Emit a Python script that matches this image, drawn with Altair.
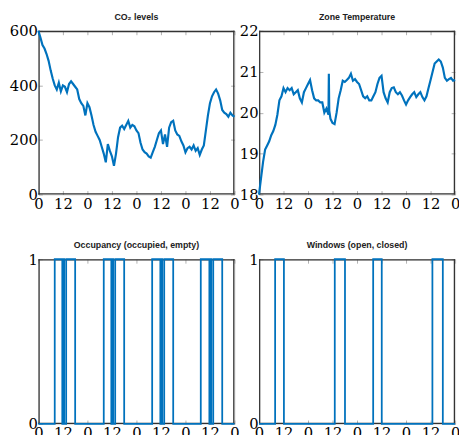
import altair as alt
import pandas as pd

# ---------------- data ----------------
hours = list(range(97))

co2_values = [600, 575, 548, 535, 515, 490, 455, 425, 400, 385,
              410, 378, 400, 395, 375, 405, 415, 405, 395, 385,
              350, 335, 325, 290, 335, 320, 290, 255, 230, 215,
              200, 175, 150, 118, 185, 160, 140, 105, 150, 210,
              245, 252, 240, 255, 270, 245, 255, 250, 235, 225,
              190, 165, 155, 150, 140, 135, 155, 175, 200, 225,
              235, 185, 220, 175, 245, 265, 270, 235, 220, 215,
              195, 180, 155, 170, 175, 165, 180, 160, 170, 145,
              165, 180, 235, 290, 335, 360, 375, 385, 370, 345,
              310, 300, 295, 285, 300, 290, 285]

temp_hours = list(range(35)) + [34.2, 34.4] + list(range(35, 97))
temp_values = [18.0, 18.4, 18.8, 19.1, 19.2, 19.3, 19.45, 19.55, 19.7, 19.95,
               20.3, 20.4, 20.6, 20.5, 20.6, 20.55, 20.6, 20.45, 20.5, 20.55,
               20.35, 20.25, 20.5, 20.6, 20.7, 20.8, 20.55, 20.35, 20.3, 20.3,
               20.25, 20.25, 20.0, 20.1, 19.95,
               20.95, 20.05,
               19.85, 19.75, 19.72, 20.0, 20.35, 20.55, 20.78, 20.75, 20.8, 20.85,
               20.95, 20.78, 20.82, 20.75, 20.7, 20.55, 20.4, 20.35, 20.4, 20.3,
               20.3, 20.4, 20.5, 20.7, 20.85, 20.9, 20.5, 20.35, 20.25, 20.5,
               20.6, 20.62, 20.5, 20.45, 20.5, 20.42, 20.3, 20.2, 20.3, 20.38,
               20.45, 20.5, 20.38, 20.45, 20.5, 20.38, 20.3, 20.4, 20.6, 20.8,
               21.0, 21.2, 21.25, 21.3, 21.25, 21.1, 20.85, 20.78, 20.82, 20.85,
               20.78, 20.8]

occ_hours = [0, 8, 11.7, 12.2, 12.6, 13.6, 18,
             32, 35.7, 36.2, 36.6, 37.6, 42,
             55.7, 59.7, 60.2, 60.6, 61.6, 66,
             79.5, 83.7, 84.2, 84.6, 85.6, 90, 96]
occ_state = [0, 1, 0, 1, 0, 1, 0,
             1, 0, 1, 0, 1, 0,
             1, 0, 1, 0, 1, 0,
             1, 0, 1, 0, 1, 0, 0]

win_hours = [0, 7.9, 12.2, 37.1, 42.1, 55.9, 60.1, 84.9, 90, 96]
win_state = [0, 1, 0, 1, 0, 1, 0, 1, 0, 0]

x_ticks = [0, 12, 24, 36, 48, 60, 72, 84, 96]

# ---------------- style ----------------
W, H_TOP, H_BOT = 200, 167, 168
BLUE = "#0072BD"
LABEL_FONT = "DejaVu Serif"
FRAME_COLOR = "#333333"
one_row = pd.DataFrame({"k": [0]})


def x_axis(h):
    return alt.Axis(values=x_ticks,
                    labelExpr="datum.value % 24 == 0 ? '0' : '12'",
                    labelFont=LABEL_FONT, labelFontSize=15, labelColor="#000",
                    labelPadding=2, labelFlush=False, labelOverlap=False,
                    ticks=False, domain=False,
                    grid=True, gridDash=[4, h - 8], gridColor="#b0b0b0", gridWidth=1,
                    title=None)


def y_axis(values):
    return alt.Axis(values=values, format="d",
                    labelFont=LABEL_FONT, labelFontSize=15, labelColor="#000",
                    labelPadding=1, labelFlush=False, labelOverlap=False,
                    ticks=False, domain=False,
                    grid=True, gridDash=[4, W - 8], gridColor="#b0b0b0", gridWidth=1,
                    title=None)


def title(t):
    return alt.TitleParams(text=t, font="Liberation Sans", fontSize=9,
                           fontWeight="bold", color="#222", offset=2)


def frame_rules(h):
    base = alt.Chart(one_row)
    top = base.mark_rule(color=FRAME_COLOR, strokeWidth=1.3).encode(
        x=alt.value(0), x2=alt.value(W), y=alt.value(0.7))
    bottom = base.mark_rule(color=FRAME_COLOR, strokeWidth=1.3).encode(
        x=alt.value(0), x2=alt.value(W), y=alt.value(h - 0.7))
    left = base.mark_rule(color=FRAME_COLOR, strokeWidth=1.3).encode(
        x=alt.value(0.7), y=alt.value(0), y2=alt.value(h))
    right = base.mark_rule(color=FRAME_COLOR, strokeWidth=1.3).encode(
        x=alt.value(W - 0.7), y=alt.value(0), y2=alt.value(h))
    return [top, bottom, left, right]


def panel(df, h, ydomain, yvalues, ttl, step, sw):
    xsc = alt.Scale(domain=[0, 96], nice=False, zero=False)
    ysc = alt.Scale(domain=ydomain, nice=False, zero=False)
    kw = {"interpolate": "step-after"} if step else {}
    line = alt.Chart(df).mark_line(color=BLUE, strokeWidth=sw, **kw).encode(
        x=alt.X("t:Q", scale=xsc, axis=x_axis(h)),
        y=alt.Y("v:Q", scale=ysc, axis=y_axis(yvalues)),
    )
    return alt.layer(*frame_rules(h), line).properties(width=W, height=h, title=title(ttl))


co2_df = pd.DataFrame({"t": hours, "v": co2_values})
temp_df = pd.DataFrame({"t": temp_hours, "v": temp_values})
occ_df = pd.DataFrame({"t": occ_hours, "v": occ_state})
win_df = pd.DataFrame({"t": win_hours, "v": win_state})

co2_chart = panel(co2_df, H_TOP, [0, 600], [0, 200, 400, 600], "CO₂ levels", False, 2.2)
temp_chart = panel(temp_df, H_TOP, [18, 22], [18, 19, 20, 21, 22], "Zone Temperature", False, 2.2)
occ_chart = panel(occ_df, H_BOT, [0, 1], [0, 1], "Occupancy (occupied, empty)", True, 1.8)
win_chart = panel(win_df, H_BOT, [0, 1], [0, 1], "Windows (open, closed)", True, 1.8)

chart = alt.concat(co2_chart, temp_chart, occ_chart, win_chart,
                   columns=2, spacing={"row": 66, "column": 25}, bounds="flush"
                   ).properties(padding={"left": 0, "top": 0, "right": -2, "bottom": -11},
                                background="white")

chart.save("out.html", embed_options={"renderer": "svg", "actions": False})
